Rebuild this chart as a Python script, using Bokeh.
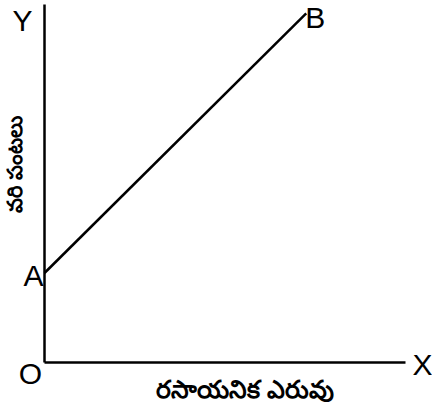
from bokeh.plotting import figure
from bokeh.models import Range1d
from bokeh.core.properties import value
from bokeh.embed import file_html
from bokeh.resources import INLINE
import math

# Conceptual data (arbitrary units): yield vs chemical fertilizer
axis_x_max = 10.0
axis_y_max = 10.0
line_x = [0.0, 7.25]
line_y = [2.5, 9.75]
point_labels = ["A", "B"]
x_title = "రసాయనిక ఎరువు"
y_title = "వరి పంటలు"

p = figure(width=432, height=405, output_backend="svg", toolbar_location=None,
           x_range=Range1d(-1.219, 10.748), y_range=Range1d(-1.201, 10.112),
           min_border=0)
p.axis.visible = False
p.grid.visible = False
p.outline_line_color = None

# axes
p.line([0, 0], [0, axis_y_max], line_color="black", line_width=2.5)
p.line([0, axis_x_max], [0, 0], line_color="black", line_width=2.5)
# response line
p.line(line_x, line_y, line_color="black", line_width=2.5)

font = value("Liberation Sans")
fs = "30px"
p.text([0], [axis_y_max], text=["Y"], x_offset=-22, y_offset=16, text_align="center",
       text_baseline="middle", text_font=font, text_font_size=fs, text_color="black")
p.text([line_x[1]], [line_y[1]], text=[point_labels[1]], x_offset=-1, y_offset=4, text_align="left",
       text_baseline="middle", text_font=font, text_font_size=fs, text_color="black")
p.text([line_x[0]], [line_y[0]], text=[point_labels[0]], x_offset=-1, y_offset=2, text_align="right",
       text_baseline="middle", text_font=font, text_font_size=fs, text_color="black")
p.text([0], [0], text=["O"], x_offset=-14, y_offset=11, text_align="center",
       text_baseline="middle", text_font=font, text_font_size=fs, text_color="black")
p.text([axis_x_max], [0], text=["X"], x_offset=7, y_offset=2, text_align="left",
       text_baseline="middle", text_font=font, text_font_size=fs, text_color="black")

tfont = value("Noto Sans")
p.text([axis_x_max / 2], [0], text=[x_title], x_offset=20, y_offset=25, text_align="center",
       text_baseline="middle", text_font=tfont, text_font_size="25px", text_font_style="bold",
       text_color="black")
p.text([0], [axis_y_max / 2], text=[y_title], x_offset=-31, y_offset=-19, angle=math.pi / 2,
       text_align="center", text_baseline="middle", text_font=tfont, text_font_size="21px",
       text_font_style="bold", text_color="black")

open("out.html", "w").write(file_html(p, INLINE))
